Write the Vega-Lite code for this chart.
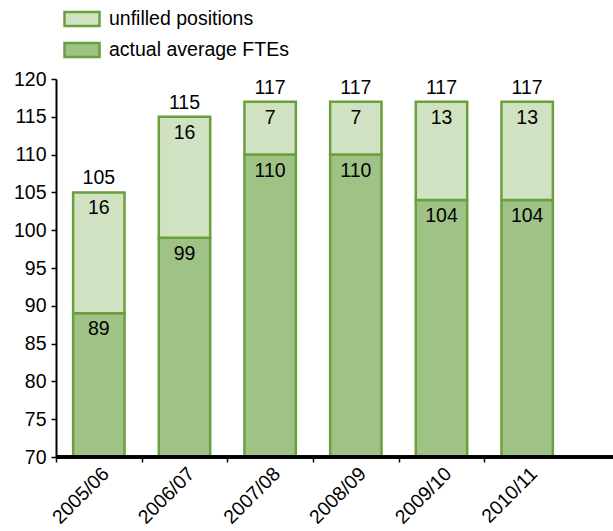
{
  "$schema": "https://vega.github.io/schema/vega-lite/v6.json",
  "width": 557,
  "height": 378,
  "autosize": "none",
  "padding": {"left": 56, "top": 79, "right": 0, "bottom": 74},
  "background": "white",
  "config": {
    "view": {"stroke": null},
    "font": "Liberation Sans",
    "text": {"font": "Liberation Sans", "fontSize": 19.5, "color": "black"},
    "axis": {"labelFont": "Liberation Sans", "labelFontSize": 19.5, "labelColor": "black", "tickColor": "black", "tickWidth": 1.5, "tickSize": 5, "grid": false, "title": null},
    "axisY": {"tickCount": 11, "labelOverlap": false, "domainColor": "black", "domainWidth": 2, "labelPadding": 5},
    "legend": {"labelFont": "Liberation Sans", "labelFontSize": 19.5, "labelColor": "black", "labelLimit": 0}
  },
  "datasets": {
    "fte": [
      {"year": "2005/06", "type": "actual average FTEs", "value": 89, "total": 105},
      {"year": "2005/06", "type": "unfilled positions", "value": 16, "total": 105},
      {"year": "2006/07", "type": "actual average FTEs", "value": 99, "total": 115},
      {"year": "2006/07", "type": "unfilled positions", "value": 16, "total": 115},
      {"year": "2007/08", "type": "actual average FTEs", "value": 110, "total": 117},
      {"year": "2007/08", "type": "unfilled positions", "value": 7, "total": 117},
      {"year": "2008/09", "type": "actual average FTEs", "value": 110, "total": 117},
      {"year": "2008/09", "type": "unfilled positions", "value": 7, "total": 117},
      {"year": "2009/10", "type": "actual average FTEs", "value": 104, "total": 117},
      {"year": "2009/10", "type": "unfilled positions", "value": 13, "total": 117},
      {"year": "2010/11", "type": "actual average FTEs", "value": 104, "total": 117},
      {"year": "2010/11", "type": "unfilled positions", "value": 13, "total": 117}
    ]
  },
  "data": {"name": "fte"},
  "layer": [
    {
      "mark": {"type": "bar", "clip": true, "stroke": "#6aa03c", "strokeWidth": 2.5},
      "encoding": {
        "x": {
          "field": "year", "type": "nominal", "sort": null,
          "scale": {"range": [0, 514], "paddingInner": 0.4, "paddingOuter": 0.2},
          "axis": {"domain": false, "labelAngle": -45, "labelAlign": "right", "labelBaseline": "top", "tickOffset": -42.85, "labelOffset": 43, "labelPadding": 2}
        },
        "y": {
          "field": "value", "type": "quantitative", "stack": "zero",
          "scale": {"domain": [70, 120], "nice": false}
        },
        "color": {
          "field": "type", "type": "nominal",
          "scale": {"domain": ["unfilled positions", "actual average FTEs"], "range": ["#d1e2c3", "#9fc386"]},
          "legend": {
            "title": null, "orient": "none", "legendX": 7, "legendY": -79,
            "symbolType": "M-1,-0.4H1V0.4H-1Z", "symbolSize": 1225,
            "symbolStrokeColor": "#6aa03c", "symbolStrokeWidth": 2.5, "symbolOpacity": 1,
            "labelOffset": 8, "rowPadding": -5
          }
        },
        "order": {"field": "type", "sort": "ascending"}
      }
    },
    {
      "mark": {"type": "text", "baseline": "alphabetic", "dy": 22},
      "encoding": {
        "x": {"field": "year", "type": "nominal", "sort": null},
        "y": {"field": "value", "type": "quantitative", "stack": "zero"},
        "detail": {"field": "type"},
        "order": {"field": "type", "sort": "ascending"},
        "text": {"field": "value", "type": "quantitative"}
      }
    },
    {
      "transform": [{"filter": "datum.type == 'unfilled positions'"}],
      "mark": {"type": "text", "baseline": "alphabetic", "dy": -8},
      "encoding": {
        "x": {"field": "year", "type": "nominal", "sort": null},
        "y": {"field": "total", "type": "quantitative"},
        "text": {"field": "total", "type": "quantitative"}
      }
    },
    {
      "mark": {"type": "rule", "color": "black", "strokeWidth": 2.5},
      "encoding": {"y": {"datum": 70}}
    }
  ]
}
